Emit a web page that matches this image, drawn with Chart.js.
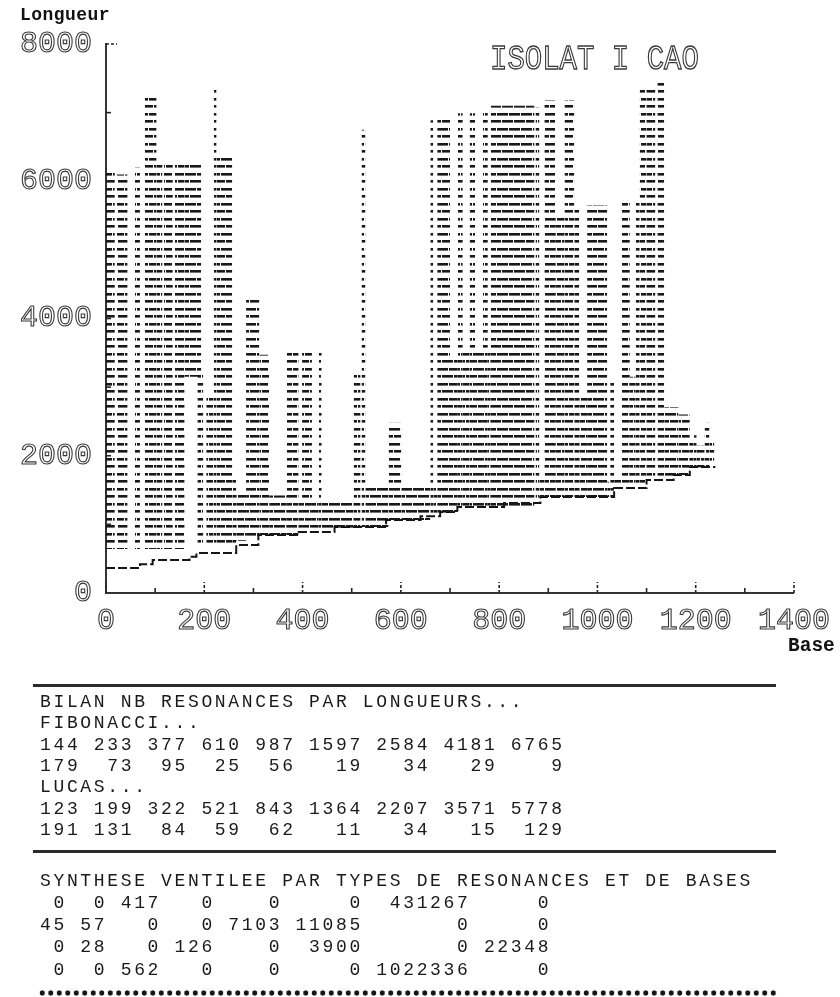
<!DOCTYPE html>
<html>
<head>
<meta charset="utf-8">
<title>ISOLAT I CAO</title>
<script src="https://cdn.jsdelivr.net/npm/chart.js@4.4.1/dist/chart.umd.min.js"></script>
<style>
  html, body { margin: 0; padding: 0; background: #fff; }
  #wrap { position: relative; width: 840px; height: 997px; overflow: hidden; background: #fff; }
  #plot { position: absolute; left: 0; top: 0; }
  .txt { position: absolute; margin: 0; white-space: pre; font-family: 'Liberation Mono', monospace; }
  .line { left: 40px; font-size: 18px; letter-spacing: 2.65px; line-height: 21px; color: #1a1a1a; }
  .rule { position: absolute; left: 33px; width: 743px; height: 3px; background: #2b2b2b; }
  .dots { position: absolute; left: 38px; width: 740px; height: 6px;
          background-image: radial-gradient(circle, #151515 2.3px, rgba(0,0,0,0) 2.9px);
          background-size: 8.5px 6px; }
  #ytitle { left: 20px; top: 6px; font-size: 18px; font-weight: bold; letter-spacing: 0.45px; color: #111; line-height: 18px; }
  #xtitle { left: 788px; top: 636px; font-size: 19.5px; font-weight: bold; color: #111; line-height: 20px; }
  #heading { left: 490px; top: 43px; font-size: 29px; line-height: 29px; color: transparent;
             -webkit-text-stroke: 1.1px #3a3a3a; transform: scaleY(1.2); transform-origin: 0 0; }
</style>
</head>
<body>
<div id="wrap">
  <canvas id="plot" width="840" height="997"></canvas>
  <div class="txt" id="ytitle">Longueur</div>
  <div class="txt" id="xtitle">Base</div>
  <div class="txt" id="heading">ISOLAT I CAO</div>
</div>
<script>
// Resonance segments: base range [from, to] and length range [low, high]
const blockFrom = [0, 22, 59, 79, 103, 118, 140, 160, 186, 204, 219, 225, 257,
  265, 285, 312, 332, 368, 392, 399, 419, 433, 439, 504, 520, 528, 575, 601,
  660, 666, 674, 700, 716, 726, 740, 751, 767, 777, 783, 874, 882, 892, 914,
  933, 953, 963, 979, 1020, 1026, 1034, 1050, 1066, 1078, 1086, 1100, 1122,
  1136, 1165, 1188, 1196, 1202, 1218, 1228];
const blockTo = [18, 44, 69, 103, 115, 136, 160, 194, 198, 219, 225, 257, 265,
  285, 312, 332, 368, 392, 399, 419, 433, 439, 504, 518, 528, 575, 601, 660,
  666, 674, 700, 716, 726, 740, 751, 767, 777, 783, 872, 882, 892, 914, 933,
  953, 963, 979, 1020, 1026, 1034, 1050, 1066, 1078, 1086, 1100, 1118, 1136,
  1165, 1188, 1196, 1202, 1218, 1228, 1238];
const blockLow = [640, 640, 640, 640, 640, 640, 640, 3150, 730, 670, 670, 670, 670,
  760, 780, 845, 845, 845, 890, 890, 890, 900, 930, 960, 960, 960, 1064, 1064,
  1100, 1120, 1150, 1180, 1253, 1253, 1253, 1253, 1253, 1253, 1253, 1311, 1340, 1399, 1399,
  1399, 1399, 1399, 1399, 1399, 1399, 1530, 1530, 1530, 1560, 1560, 1646, 1646,
  1646, 1719, 1800, 1800, 1830, 1850, 1870];
const blockHigh = [6130, 6100, 6200, 7215, 6280, 6260, 6290, 6290, 3200, 2850, 7330, 6410, 1650,
  1450, 4270, 3470, 1420, 3500, 1311, 3500, 1311, 3500, 1311, 3180, 6750, 1600, 2480, 1600,
  6890, 1600, 6920, 3430, 6990, 3510, 6990, 3510, 7040, 3510, 7100, 7080, 1650, 7180, 5500,
  7180, 5580, 2840, 5650, 1620, 3100, 1680, 5700, 3150, 5730, 7330, 7370, 7450,
  2710, 2600, 2250, 2300, 2150, 2480, 2190];

// Lower edge staircase: step start and level
const baseStepX = [0, 69, 95, 170, 184, 265, 310, 392, 465, 570, 640, 680, 715, 810, 884, 1034, 1100, 1155, 1188, 1240];
const baseStepY = [364, 420, 480, 530, 583, 700, 845, 890, 960, 1064, 1120, 1180, 1253, 1311, 1399, 1530, 1646, 1719, 1836, 1836];

// Summary tables printed under the plot
const fibLengths   = [144, 233, 377, 610, 987, 1597, 2584, 4181, 6765];
const fibCounts    = [179, 73, 95, 25, 56, 19, 34, 29, 9];
const lucasLengths = [123, 199, 322, 521, 843, 1364, 2207, 3571, 5778];
const lucasCounts  = [191, 131, 84, 59, 62, 11, 34, 15, 129];
const synthRow1 = [0, 0, 417, 0, 0, 0, 431267, 0];
const synthRow2 = [45, 57, 0, 0, 7103, 11085, 0, 0];
const synthRow3 = [0, 28, 0, 126, 0, 3900, 0, 22348];
const synthRow4 = [0, 0, 562, 0, 0, 0, 1022336, 0];

const canvas = document.getElementById('plot');
const ctx = canvas.getContext('2d');

// Dot-matrix hatching: short horizontal dash rows
function dotMatrixTexture() {
  const tile = document.createElement('canvas');
  tile.width = 12; tile.height = 15;
  const g = tile.getContext('2d');
  g.fillStyle = '#181818';
  g.fillRect(0, 0, 9, 2); g.fillRect(10, 0, 2, 2);
  g.fillRect(0, 8, 4, 2); g.fillRect(5, 8, 7, 2);
  g.fillStyle = 'rgba(0,0,0,0.55)';
  g.fillRect(0, 2, 9, 1); g.fillRect(10, 2, 2, 1);
  g.fillRect(0, 10, 4, 1); g.fillRect(5, 10, 7, 1);
  return ctx.createPattern(tile, 'repeat');
}
const texture = dotMatrixTexture();

const segmentSets = blockFrom.map((x0, i) => ({
  type: 'line',
  data: [{ x: x0, y: blockHigh[i] }, { x: blockTo[i], y: blockHigh[i] }],
  fill: { value: blockLow[i] },
  backgroundColor: texture,
  borderColor: 'rgba(0,0,0,0)',
  borderWidth: 0,
  pointRadius: 0
}));

const baseSet = {
  type: 'line',
  data: baseStepX.map((x, i) => ({ x: x, y: baseStepY[i] })),
  stepped: true,
  fill: false,
  borderColor: '#151515',
  borderWidth: 2,
  borderDash: [9, 3],
  pointRadius: 0
};

// Small inward tick marks along both axes
const innerTicks = {
  id: 'innerTicks',
  afterDraw(chart) {
    const { x, y } = chart.scales;
    const c = chart.ctx;
    c.save();
    c.strokeStyle = '#222';
    c.lineWidth = 1.6;
    const axisY = y.getPixelForValue(0);
    for (let v = 0; v <= 1400; v += 100) {
      const px = x.getPixelForValue(v);
      const len = v % 200 === 0 ? 11 : 5;
      c.setLineDash(v % 200 === 0 ? [3, 2] : []);
      c.beginPath(); c.moveTo(px, axisY); c.lineTo(px, axisY - len); c.stroke();
    }
    const axisX = x.getPixelForValue(0);
    for (let v = 1000; v <= 8000; v += 1000) {
      const py = y.getPixelForValue(v);
      const len = v === 8000 ? 11 : 5;
      c.setLineDash(v === 8000 ? [3, 2] : []);
      c.beginPath(); c.moveTo(axisX, py); c.lineTo(axisX + len, py); c.stroke();
    }
    c.restore();
  }
};

const plainNumber = v => String(v);

new Chart(ctx, {
  type: 'line',
  data: { datasets: [...segmentSets, baseSet] },
  plugins: [innerTicks],
  options: {
    responsive: false,
    animation: false,
    devicePixelRatio: 1,
    layout: { padding: { left: 0, right: 42, top: 44, bottom: 344 } },
    plugins: { legend: { display: false }, tooltip: { enabled: false }, title: { display: false } },
    scales: {
      x: {
        type: 'linear', min: 0, max: 1400,
        afterFit: s => { s.height = 60; },
        grid: { display: false, drawTicks: false },
        border: { display: true, color: '#333', width: 2, dash: [12, 2] },
        ticks: {
          stepSize: 200, autoSkip: false, maxRotation: 0, padding: 10,
          callback: plainNumber,
          font: { family: 'Liberation Mono', size: 30 },
          color: 'rgba(255,255,255,0)', textStrokeColor: '#3a3a3a', textStrokeWidth: 1.1
        }
      },
      y: {
        type: 'linear', min: 0, max: 8000,
        afterFit: s => { s.width = 106; },
        grid: { display: false, drawTicks: false },
        border: { display: true, color: '#333', width: 2, dash: [3, 5] },
        ticks: {
          stepSize: 2000, padding: 14,
          callback: plainNumber,
          font: { family: 'Liberation Mono', size: 30 },
          color: 'rgba(255,255,255,0)', textStrokeColor: '#3a3a3a', textStrokeWidth: 1.1
        }
      }
    }
  }
});

// Text block under the plot
const wrap = document.getElementById('wrap');
function addLine(text, centerY) {
  const d = document.createElement('div');
  d.className = 'txt line';
  d.style.top = (centerY - 9.7) + 'px';
  d.textContent = text;
  wrap.appendChild(d);
}
function addRule(y) {
  const d = document.createElement('div');
  d.className = 'rule';
  d.style.top = (y - 1.5) + 'px';
  wrap.appendChild(d);
}
function alignUnder(heads, counts) {
  return counts.map((c, i) => String(c).padStart(String(heads[i]).length)).join(' ');
}
function fieldRow(row) {
  const widths = [2, 3, 4, 4, 5, 6, 8, 6];
  return row.map((v, i) => String(v).padStart(widths[i])).join('');
}

addRule(685);
addLine('BILAN NB RESONANCES PAR LONGUEURS...', 702);
addLine('FIBONACCI...', 723);
addLine(fibLengths.join(' '), 745);
addLine(alignUnder(fibLengths, fibCounts), 766);
addLine('LUCAS...', 787);
addLine(lucasLengths.join(' '), 809);
addLine(alignUnder(lucasLengths, lucasCounts), 830);
addRule(851);
addLine('SYNTHESE VENTILEE PAR TYPES DE RESONANCES ET DE BASES', 881);
addLine(fieldRow(synthRow1), 903);
addLine(fieldRow(synthRow2), 925);
addLine(fieldRow(synthRow3), 947);
addLine(fieldRow(synthRow4), 970);
const dots = document.createElement('div');
dots.className = 'dots';
dots.style.top = '990px';
wrap.appendChild(dots);
</script>
</body>
</html>
